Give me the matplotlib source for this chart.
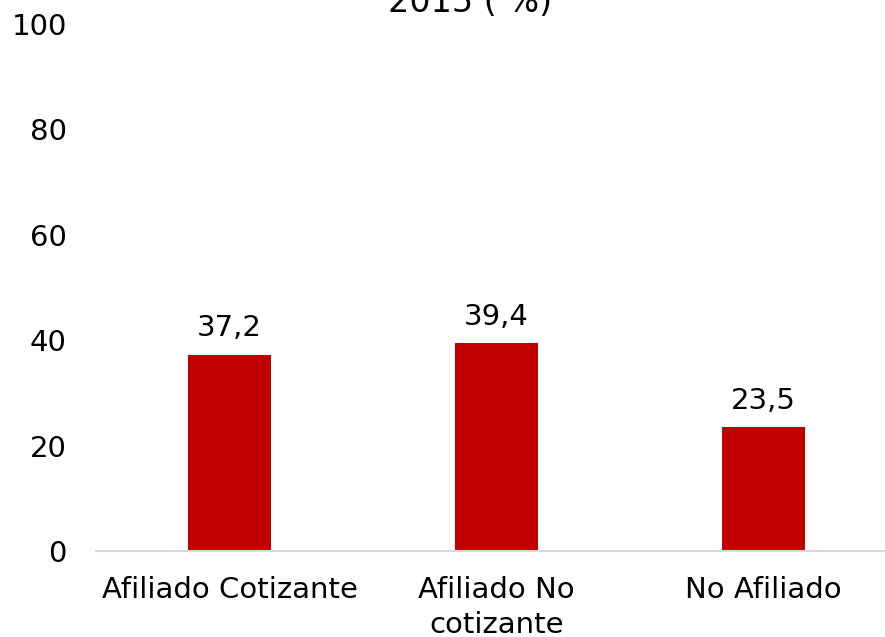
import matplotlib
matplotlib.use("Agg")
import matplotlib.pyplot as plt

categorias = ["Afiliado Cotizante", "Afiliado No\ncotizante", "No Afiliado"]
valores = [37.2, 39.4, 23.5]
etiquetas = ["37,2", "39,4", "23,5"]
yticks = [0, 20, 40, 60, 80, 100]

W, H = 885, 637
fig = plt.figure(figsize=(W / 100, H / 100), dpi=100)
# axes in pixel coordinates: left 96, right 897, bottom 551, top 24
ax = fig.add_axes([96 / W, (H - 551) / H, 801 / W, (551 - 24) / H])

x = list(range(len(categorias)))
ax.bar(x, valores, width=0.31, color="#C00000", zorder=2)
for xi, v, t in zip(x, valores, etiquetas):
    ax.annotate(t, (xi, v), xytext=(0, 9), textcoords="offset points",
                ha="center", va="bottom", fontsize=21, color="black")

ax.set_xlim(-0.5, 2.5)
ax.set_ylim(0, 100)
ax.set_yticks(yticks)
ax.set_yticklabels([str(t) for t in yticks])
ax.set_xticks(x)
ax.set_xticklabels(categorias, fontsize=21, linespacing=1.3)
ax.tick_params(axis="y", length=0, pad=21, labelsize=21)
ax.tick_params(axis="x", length=0, pad=18)

for s in ["left", "right", "top"]:
    ax.spines[s].set_visible(False)
ax.spines["bottom"].set_color("#D9D9D9")
ax.spines["bottom"].set_linewidth(1.5)

# title cut off at the top of the image
fig.text(470 / W, 1 - 12 / H, "2015 ( %)", ha="center", va="baseline", fontsize=24)

fig.savefig("out.png", dpi=100)
